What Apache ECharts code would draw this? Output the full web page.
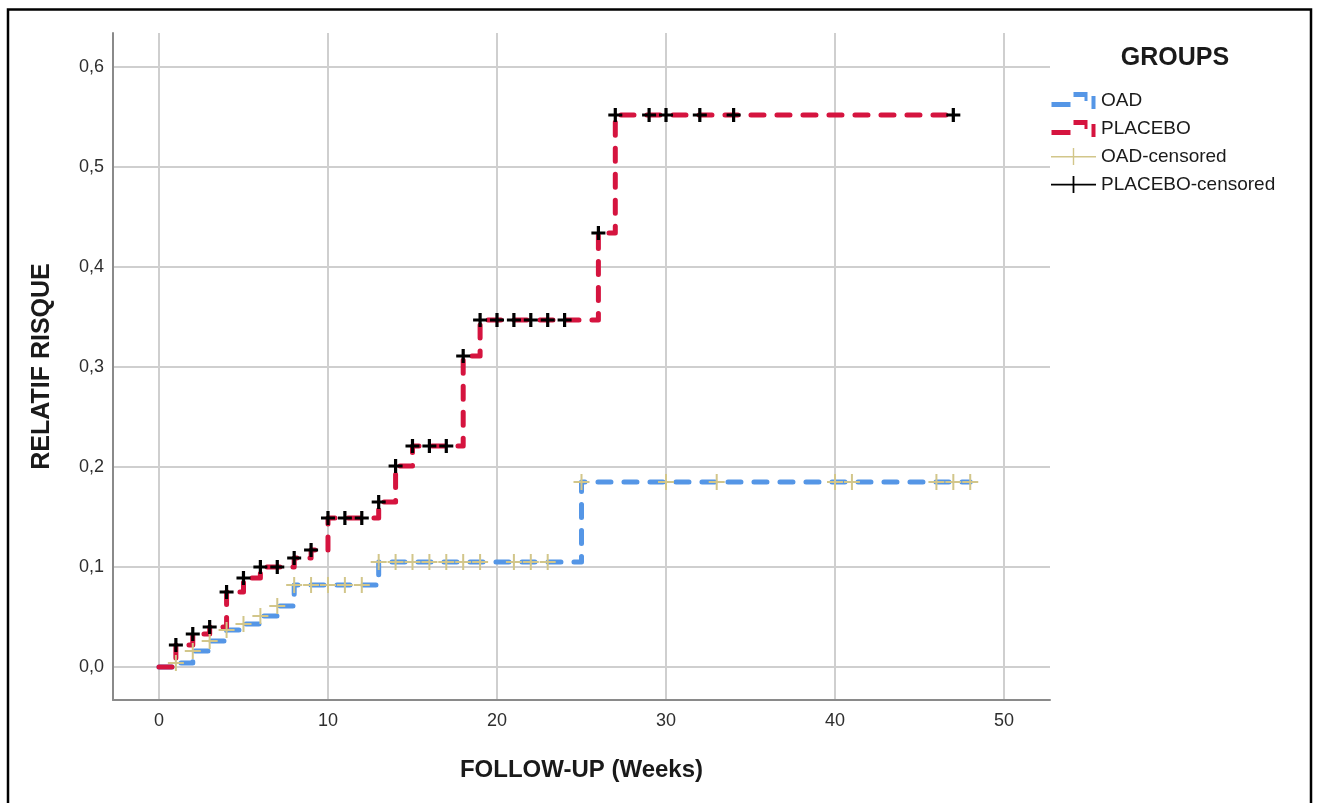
<!DOCTYPE html>
<html>
<head>
<meta charset="utf-8">
<script src="https://cdn.jsdelivr.net/npm/echarts@6/dist/echarts.min.js"></script>
<style>
html,body{margin:0;padding:0;background:#fff;}
#chart{width:1320px;height:803px;}
</style>
</head>
<body>
<div id="chart"></div>
<script>
// ---- Data ----
const xTicks = [0, 10, 20, 30, 40, 50];
const yTicks = [0, 0.1, 0.2, 0.3, 0.4, 0.5, 0.6];

// Step curves: value after the step at each week
const weeksOAD = [0, 1, 2, 3, 4, 5, 6, 7, 8, 13, 25, 48];
const riskOAD  = [0, 0.004, 0.016, 0.026, 0.037, 0.043, 0.051, 0.061, 0.082, 0.105, 0.185, 0.185];

const weeksPlacebo = [0, 1, 2, 3, 4, 5, 6, 8, 9, 10, 13, 14, 15, 18, 19, 26, 27, 47];
const riskPlacebo  = [0, 0.022, 0.033, 0.040, 0.075, 0.089, 0.100, 0.109, 0.117, 0.149, 0.165, 0.201, 0.221, 0.311, 0.347, 0.434, 0.552, 0.552];

// Censoring times
const censoredWeeksOAD = [1, 2, 3, 4, 5, 6, 7, 8, 9, 10, 11, 12, 13, 14, 15, 16, 17, 18, 19, 21, 22, 23, 25, 30, 33, 40, 41, 46, 47, 48];
const censoredWeeksPlacebo = [1, 2, 3, 4, 5, 6, 7, 8, 9, 10, 11, 12, 13, 14, 15, 16, 17, 18, 19, 20, 21, 22, 23, 24, 26, 27, 29, 30, 32, 34, 47];

const groupNames = ['OAD', 'PLACEBO', 'OAD-censored', 'PLACEBO-censored'];

// ---- helpers ----
function curveAt(weeks, risk, t) {
  let v = risk[0];
  for (let i = 0; i < weeks.length; i++) { if (weeks[i] <= t) v = risk[i]; }
  return v;
}
const pairs = (xs, ys) => xs.map((x, i) => [x, ys[i]]);
const censorPts = (cw, weeks, risk) => cw.map(t => [t, curveAt(weeks, risk, t)]);

const BLUE = '#5596E6', RED = '#D5143F', TAN = '#D2C68A', BLACK = '#000000';
const FONT = '"Liberation Sans", Arial, sans-serif';

const crossBold = 'path://M5.4,0H8.6V5.4H14V8.6H8.6V14H5.4V8.6H0V5.4H5.4Z';
const crossThin = 'path://M7,0H9V7H16V9H9V16H7V9H0V7H7Z';
const stepIcon = 'path://M0,10H19V15H0Z M22,0H36V9H33V5H22Z M40,4H44V17H40Z';
const censorIconTan = 'path://M0,8H45V9.4H0Z M21.8,0H23.2V17H21.8Z';
const censorIconBlack = 'path://M0,7.8H45V9.4H0Z M21.6,0H23.4V17H21.6Z';

const chart = echarts.init(document.getElementById('chart'), null, {renderer: 'canvas'});

chart.setOption({
  backgroundColor: '#fff',
  animation: false,
  textStyle: {fontFamily: FONT},
  title: {
    text: 'GROUPS', left: 1175, top: 46, textAlign: 'center', padding: 0,
    textStyle: {fontFamily: FONT, fontSize: 25, fontWeight: 'bold', color: '#1a1a1a'}
  },
  legend: {
    orient: 'vertical', left: 1051, top: 91, padding: 0,
    itemWidth: 45, itemHeight: 17, itemGap: 9,
    textStyle: {fontFamily: FONT, fontSize: 19, color: '#1a1a1a'},
    itemStyle: {borderWidth: 0},
    data: [
      {name: groupNames[0], icon: stepIcon},
      {name: groupNames[1], icon: stepIcon},
      {name: groupNames[2], icon: censorIconTan},
      {name: groupNames[3], icon: censorIconBlack}
    ]
  },
  grid: {left: 113, right: 270, top: 33, bottom: 103, containLabel: false},
  xAxis: {
    type: 'value', min: -2.72, max: 52.72,
    name: 'FOLLOW-UP (Weeks)', nameLocation: 'middle', nameGap: 58,
    nameTextStyle: {fontFamily: FONT, fontSize: 24, fontWeight: 'bold', color: '#1a1a1a'},
    axisLine: {show: true, onZero: false, lineStyle: {color: '#8a8a8a', width: 2}},
    axisTick: {show: false, customValues: xTicks},
    axisLabel: {customValues: xTicks, fontFamily: FONT, fontSize: 18, color: '#2e2e2e', margin: 12,
      formatter: v => String(v)},
    splitLine: {show: true, lineStyle: {color: '#cfcfcf', width: 2}}
  },
  yAxis: {
    type: 'value', min: -0.033, max: 0.634,
    name: 'RELATIF RISQUE', nameLocation: 'middle', nameGap: 58, nameRotate: 90,
    nameTextStyle: {fontFamily: FONT, fontSize: 25, fontWeight: 'bold', color: '#1a1a1a'},
    axisLine: {show: true, onZero: false, lineStyle: {color: '#8a8a8a', width: 2}},
    axisTick: {show: false, customValues: yTicks},
    axisLabel: {customValues: yTicks, fontFamily: FONT, fontSize: 18, color: '#2e2e2e', margin: 9,
      formatter: v => v.toFixed(1).replace('.', ',')},
    splitLine: {show: true, lineStyle: {color: '#cfcfcf', width: 2}}
  },
  graphic: [{
    type: 'rect', silent: true, z: 100,
    shape: {x: 8, y: 9.5, width: 1303, height: 800},
    style: {fill: 'none', stroke: '#000', lineWidth: 2.5}
  }],
  series: [
    {
      name: groupNames[0], type: 'line', step: 'end', showSymbol: false, symbol: 'none',
      data: pairs(weeksOAD, riskOAD),
      itemStyle: {color: BLUE},
      lineStyle: {color: BLUE, width: 5, type: [13, 13], cap: 'round', join: 'round'},
      z: 2
    },
    {
      name: groupNames[1], type: 'line', step: 'end', showSymbol: false, symbol: 'none',
      data: pairs(weeksPlacebo, riskPlacebo),
      itemStyle: {color: RED},
      lineStyle: {color: RED, width: 5, type: [13, 13], cap: 'round', join: 'round'},
      z: 3
    },
    {
      name: groupNames[2], type: 'scatter', symbol: crossThin, symbolSize: 16,
      data: censorPts(censoredWeeksOAD, weeksOAD, riskOAD),
      itemStyle: {color: TAN, opacity: 1},
      z: 4
    },
    {
      name: groupNames[3], type: 'scatter', symbol: crossBold, symbolSize: 14,
      data: censorPts(censoredWeeksPlacebo, weeksPlacebo, riskPlacebo),
      itemStyle: {color: BLACK, opacity: 1},
      z: 5
    }
  ]
});
</script>
</body>
</html>
